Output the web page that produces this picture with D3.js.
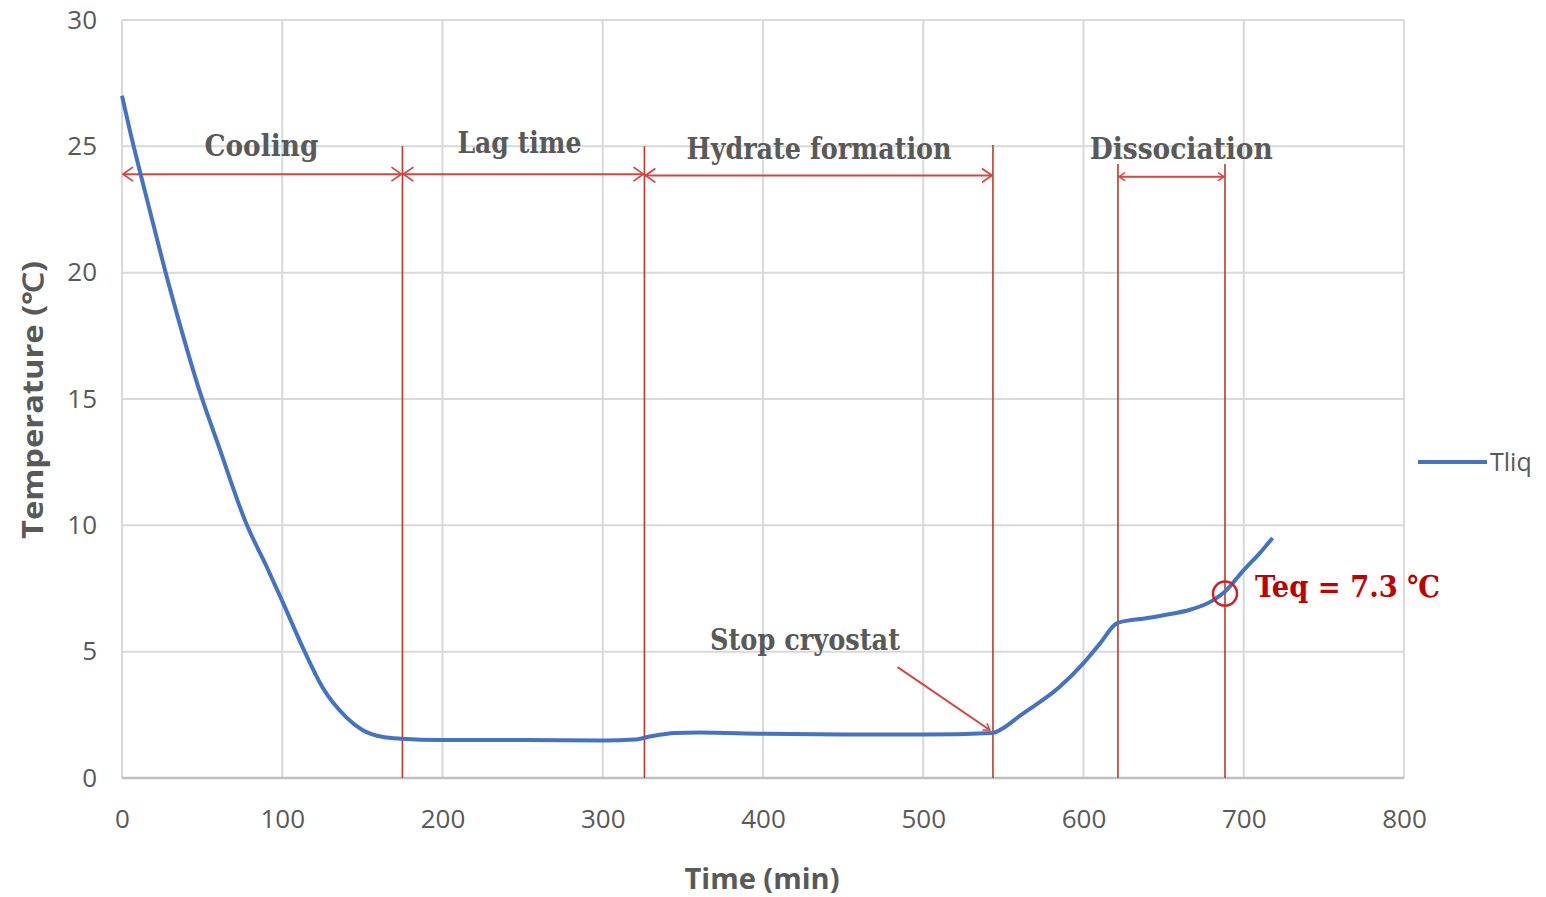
<!DOCTYPE html>
<html>
<head>
<meta charset="utf-8">
<script src="https://cdn.jsdelivr.net/npm/d3@7"></script>
<style>
    html, body { margin: 0; padding: 0; background: #fff; }
    svg { display: block; }
</style>
</head>
<body>
<div id="chart"></div>
<script>
// ——— DATA —————————————————————————————————————————————————————————
const timeMin = [0, 5, 12, 20, 26, 35, 49, 60, 78, 90, 100, 114, 125, 140, 150, 163, 175, 198, 250, 300, 320, 330, 345, 360, 400, 450, 500, 543, 550, 560, 585, 600, 610, 621, 630, 640, 655, 666, 680, 688, 700, 710, 718];
const tliq = [27.0, 25.6, 23.8, 21.8, 20.3, 18.2, 15.2, 13.2, 10.0, 8.4, 7.0, 5.0, 3.6, 2.4, 1.9, 1.62, 1.55, 1.5, 1.5, 1.48, 1.52, 1.65, 1.78, 1.8, 1.75, 1.72, 1.72, 1.78, 1.98, 2.45, 3.6, 4.55, 5.3, 6.13, 6.25, 6.33, 6.5, 6.65, 7.0, 7.36, 8.23, 8.9, 9.5];

const xTicks = [0, 100, 200, 300, 400, 500, 600, 700, 800];
const yTicks = [0, 5, 10, 15, 20, 25, 30];

// phase boundaries (min) and how high each red line reaches (°C)
const phaseLines = [175, 326, 543.5, 621.5, 688.3];
const phaseLineTops = [25.0, 25.0, 25.05, 24.3, 24.3];

// double arrows: start, end, level
const phaseArrows = [
    { from: 0, to: 175, level: 23.9 },
    { from: 175, to: 326, level: 23.9 },
    { from: 326, to: 543.5, level: 23.85 },
    { from: 621.5, to: 688.3, level: 23.8 }
];

const phaseLabels = ["Cooling", "Lag time", "Hydrate formation", "Dissociation"];
const phaseLabelX = [87, 248, 435, 661];
const phaseLabelY = [24.6, 24.75, 24.5, 24.5];

const stopArrow = { t0: 484, v0: 4.39, t1: 541.5, v1: 1.9 };
const teq = { t: 688.3, v: 7.3, label: "Teq = 7.3 ℃" };

// ——— SETUP ————————————————————————————————————————————————————————
const width = 1546;
const height = 897;

const svg = d3.select("#chart").append("svg")
    .attr("width", width)
    .attr("height", height);

const xScale = d3.scaleLinear().domain([0, 800]).range([122, 1404]);
const yScale = d3.scaleLinear().domain([0, 30]).range([778, 20]);

const grey = "#595959";
const red = "#d64541";
const darkRed = "#c0392b";

// ——— GRID ——————————————————————————————————————————————————————————
svg.append("g")
    .selectAll("line")
    .data(xTicks)
    .enter()
    .append("line")
    .attr("x1", (d) => xScale(d))
    .attr("x2", (d) => xScale(d))
    .attr("y1", yScale(30))
    .attr("y2", yScale(0))
    .attr("stroke", "#d9d9d9")
    .attr("stroke-width", 2);

svg.append("g")
    .selectAll("line")
    .data(yTicks)
    .enter()
    .append("line")
    .attr("x1", xScale(0))
    .attr("x2", xScale(800))
    .attr("y1", (d) => yScale(d))
    .attr("y2", (d) => yScale(d))
    .attr("stroke", (d) => d === 0 ? "#bfbfbf" : "#d9d9d9")
    .attr("stroke-width", (d) => d === 0 ? 2.5 : 2);

// ——— AXES ——————————————————————————————————————————————————————————
const xaxis = d3.axisBottom(xScale).tickValues(xTicks).tickSize(0).tickPadding(32);
const yaxis = d3.axisLeft(yScale).tickValues(yTicks).tickSize(0).tickPadding(25);

const gx = svg.append("g")
    .attr("transform", "translate(0," + yScale(0) + ")")
    .call(xaxis);
const gy = svg.append("g")
    .attr("transform", "translate(" + xScale(0) + ",0)")
    .call(yaxis);

[gx, gy].forEach((g) => {
    g.select(".domain").remove();
    g.selectAll("text")
        .attr("fill", grey)
        .style("font-family", "'Open Sans', sans-serif")
        .style("font-size", "26px");
});

svg.append("text")
    .attr("x", 762)
    .attr("y", 889)
    .attr("text-anchor", "middle")
    .attr("fill", grey)
    .attr("textLength", 155)
    .attr("lengthAdjust", "spacingAndGlyphs")
    .style("font-family", "'Open Sans', sans-serif")
    .style("font-weight", "bold")
    .style("font-size", "28px")
    .text("Time (min)");

svg.append("text")
    .attr("transform", "translate(43,400) rotate(-90)")
    .attr("text-anchor", "middle")
    .attr("fill", grey)
    .attr("textLength", 278)
    .attr("lengthAdjust", "spacingAndGlyphs")
    .style("font-family", "'Open Sans', sans-serif")
    .style("font-weight", "bold")
    .style("font-size", "28px")
    .text("Temperature (℃)");

// ——— PHASE MARKERS —————————————————————————————————————————————————
const defs = svg.append("defs");
defs.append("marker")
    .attr("id", "openArrow")
    .attr("viewBox", "0 0 12 16")
    .attr("refX", 11)
    .attr("refY", 8)
    .attr("markerWidth", 12)
    .attr("markerHeight", 16)
    .attr("markerUnits", "userSpaceOnUse")
    .attr("orient", "auto-start-reverse")
    .append("path")
    .attr("d", "M1,1 L11,8 L1,15")
    .attr("fill", "none")
    .attr("stroke", red)
    .attr("stroke-width", 1.8);

defs.append("marker")
    .attr("id", "smallArrow")
    .attr("viewBox", "0 0 8 10")
    .attr("refX", 7)
    .attr("refY", 5)
    .attr("markerWidth", 8)
    .attr("markerHeight", 10)
    .attr("markerUnits", "userSpaceOnUse")
    .attr("orient", "auto-start-reverse")
    .append("path")
    .attr("d", "M1,1 L7,5 L1,9")
    .attr("fill", "none")
    .attr("stroke", red)
    .attr("stroke-width", 1.5);

svg.append("g")
    .selectAll("line")
    .data(phaseLines)
    .enter()
    .append("line")
    .attr("x1", (d) => xScale(d))
    .attr("x2", (d) => xScale(d))
    .attr("y1", (d, i) => yScale(phaseLineTops[i]))
    .attr("y2", yScale(0))
    .attr("stroke", darkRed)
    .attr("stroke-width", 1.6);

svg.append("g")
    .selectAll("line")
    .data(phaseArrows)
    .enter()
    .append("line")
    .attr("x1", (d) => xScale(d.from) + 1)
    .attr("x2", (d) => xScale(d.to) - 1)
    .attr("y1", (d) => yScale(d.level))
    .attr("y2", (d) => yScale(d.level))
    .attr("stroke", red)
    .attr("stroke-width", 2)
    .attr("marker-start", (d, i) => i === 3 ? "url(#smallArrow)" : "url(#openArrow)")
    .attr("marker-end", (d, i) => i === 3 ? "url(#smallArrow)" : "url(#openArrow)");

const labelFont = (sel) => sel
    .style("font-family", "'DejaVu Serif Condensed', 'DejaVu Serif', serif")
    .style("font-weight", "bold")
    .style("font-size", "30px");

const labelWidths = [114, 124, 265, 183];
svg.append("g")
    .selectAll("text")
    .data(phaseLabels)
    .enter()
    .append("text")
    .attr("x", (d, i) => xScale(phaseLabelX[i]))
    .attr("y", (d, i) => yScale(phaseLabelY[i]))
    .attr("text-anchor", "middle")
    .attr("fill", grey)
    .attr("textLength", (d, i) => labelWidths[i])
    .attr("lengthAdjust", "spacingAndGlyphs")
    .call(labelFont)
    .text((d) => d);

// ——— LINE ——————————————————————————————————————————————————————————
const line = d3.line()
    .x((d) => xScale(d[0]))
    .y((d) => yScale(d[1]))
    .curve(d3.curveMonotoneX);

svg.append("path")
    .datum(d3.zip(timeMin, tliq))
    .attr("d", line)
    .attr("fill", "none")
    .attr("stroke", "#4472c4")
    .attr("stroke-width", 4)
    .attr("stroke-linejoin", "round");

// ——— ANNOTATIONS ———————————————————————————————————————————————————
svg.append("text")
    .attr("x", 805)
    .attr("y", 650)
    .attr("text-anchor", "middle")
    .attr("fill", grey)
    .attr("textLength", 190)
    .attr("lengthAdjust", "spacingAndGlyphs")
    .call(labelFont)
    .text("Stop cryostat");

svg.append("line")
    .attr("x1", xScale(stopArrow.t0))
    .attr("y1", yScale(stopArrow.v0))
    .attr("x2", xScale(stopArrow.t1))
    .attr("y2", yScale(stopArrow.v1))
    .attr("stroke", red)
    .attr("stroke-width", 2)
    .attr("marker-end", "url(#smallArrow)");

svg.append("circle")
    .attr("cx", xScale(teq.t))
    .attr("cy", yScale(teq.v))
    .attr("r", 12)
    .attr("fill", "none")
    .attr("stroke", "#d0202a")
    .attr("stroke-width", 2.5);

svg.append("text")
    .attr("x", 1255)
    .attr("y", 597)
    .attr("fill", "#c00000")
    .attr("textLength", 185)
    .attr("lengthAdjust", "spacingAndGlyphs")
    .call(labelFont)
    .text(teq.label);

// ——— LEGEND ————————————————————————————————————————————————————————
svg.append("line")
    .attr("x1", 1418)
    .attr("x2", 1487)
    .attr("y1", 462)
    .attr("y2", 462)
    .attr("stroke", "#4472c4")
    .attr("stroke-width", 4);

svg.append("text")
    .attr("x", 1490)
    .attr("y", 471)
    .attr("fill", grey)
    .style("font-family", "'Open Sans', sans-serif")
    .style("font-size", "25px")
    .text("Tliq");
</script>
</body>
</html>
